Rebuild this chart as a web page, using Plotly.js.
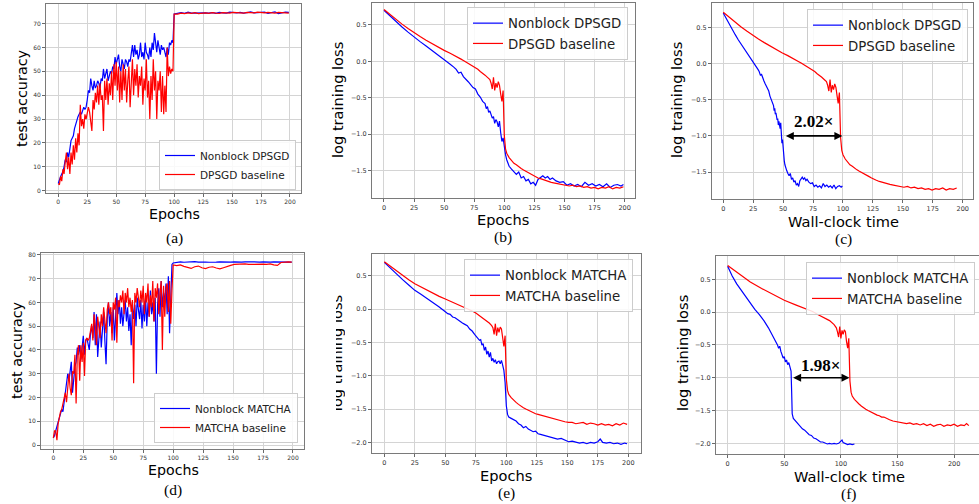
<!DOCTYPE html>
<html>
<head>
<meta charset="utf-8">
<script src="https://cdn.plot.ly/plotly-3.0.1.min.js"></script>
<style>html,body{margin:0;padding:0;background:#fff;}#chart{width:979px;height:504px;}</style>
</head>
<body>
<div id="chart"></div>
<script>
// ---------------- DATA ----------------
// Panels (a) and (d): test accuracy vs epochs
const epochsAcc = [0,1,2,3,4,5,6,7,8,9,10,11,12,13,14,15,16,17,18,19,20,21,22,23,24,25,26,27,28,29,30,31,32,33,34,35,36,37,38,39,40,41,42,43,44,45,46,47,48,49,50,51,52,53,54,55,56,57,58,59,60,61,62,63,64,65,66,67,68,69,70,71,72,73,74,75,76,77,78,79,80,81,82,83,84,85,86,87,88,89,90,91,92,93,94,95,96,97,98,99,100,103,106,109,112,115,118,121,124,127,130,133,136,139,142,145,148,151,154,157,160,163,166,169,172,175,178,181,184,187,190,193,196,199];

const accNonblockDPSGD = [3,5,6,7,8,10,13,12,16,14,19,21,22,23,26,28,29,31,32,33,32,34,35,34,35,38,42,41,47,44,42,46,43,44,46,45,43,47,46,51,47,49,51,46,48,50,49,52,51,56,53,55,57,52,50,55,53,51,55,54,52,55,54,58,61,56,61,57,59,55,57,62,56,58,55,62,58,57,55,60,56,62,59,66,62,58,63,60,57,61,59,60,58,56,60,57,62,61,63,62,74,
74.2,74.6,74.3,74.8,74.4,74.5,74.3,74.7,74.5,74.4,74.6,74.3,74.7,74.5,74.4,74.8,74.6,74.5,74.7,74.4,74.6,74.9,74.5,74.7,74.6,74.8,74.3,74.7,74.9,74.2,74.6,74.8,74.7];

const accDPSGDBaseline = [3,2.5,6,4,9,7,12,16,9,14,7,16,11,19,13,22,16,24,19,36,27,30,26,32,30,33,35,33,28,25,38,34,41,37,44,36,45,38,40,25,46,38,47,36,45,40,50,38,53,44,54,42,52,37,50,38,53,42,51,37,46,52,35,48,55,40,51,44,53,39,48,44,52,36,47,42,55,39,46,30,48,38,55,42,50,30,46,42,50,33,48,32,44,33,60,48,52,49,51,50,74,
74.0,74.4,74.2,74.5,74.3,74.6,74.2,74.4,74.5,74.3,74.6,74.4,74.3,74.6,74.5,74.4,74.7,74.5,74.6,74.4,74.7,74.6,74.5,74.8,74.6,74.5,74.7,74.6,74.4,74.7,74.5,74.6,74.4];

const accNonblockMATCHA = [3,4,6,8,10,11,13,15,14,18,21,24,30,27,31,35,22,29,33,35,41,38,42,36,40,46,38,44,45,42,40,47,50,45,56,42,55,37,47,52,41,50,56,44,34,53,60,50,56,47,58,44,57,64,55,61,51,58,50,55,61,52,58,48,55,42,60,53,59,50,62,57,53,61,49,59,52,62,50,60,54,65,55,60,52,62,30,59,66,54,69,58,64,60,68,55,71,47,66,76,76.6,
77.0,77.1,76.9,77.1,77.0,77.2,77.0,77.1,77.0,76.9,77.1,77.0,77.1,77.0,77.2,77.0,77.1,76.9,77.0,77.1,77.0,77.1,77.0,77.0,77.1,76.9,77.0,77.1,77.0,77.0,77.1,77.0,77.0];

const accMATCHABaseline = [3,6,6,2,9,12,14,15,17,20,22,18,26,30,24,21,31,30,38,17.5,38,42,27,42,35,43,29,44,45,44,45,48,51,44,55,50,42,54,48,45,55,50,58,53,47,57,60,55,58,44,60,57,62,43,61,58,63,60,65,55,64,60,66,58,62,56,61,26,64,60,66,62,58,65,60,67,55,64,60,68,54,63,58,69,52,66,62,68,55,64,69,40,67,54,66,68,56,69,51,65,75.8,
75.5,75.8,75.2,74.8,74.3,75.0,75.3,74.6,74.2,74.8,75.0,74.5,74.1,74.6,75.2,75.6,76.0,76.1,75.9,76.2,76.0,76.1,75.9,76.2,76.1,76.0,76.2,75.8,75.6,76.8,77.0,77.1,77.0];

// Panel (b)/(c): DPSGD log training loss
const epochsLossNbD = [0,5,10,15,20,25,30,35,40,45,50,55,58,60,62,64,66,68,70,72,74,76,78,80,82,84,85,86,87,88,89,90,91,92,93,94,95,96,97,98,99,100,101,102,103,104,106,108,110,112,114,116,118,120,122,124,126,128,130,132,134,136,138,140,143,146,149,152,155,158,161,164,167,170,173,176,179,182,185,188,191,194,197,199];
const timeLossNbD = [0,2.5,5,7.5,10,12.5,15,17.5,20,22.5,25,27.5,29,30,31,32,33,34,35,36,37,38,39,40,41,42,42.5,43,43.5,44,44.5,45,45.5,46,46.5,47,47.5,48,48.5,49,49.5,50,50.5,51,51.5,52,53,54,55,56,57,58,59,60,61,62,63,64,65,66,67,68,69,70,71.5,73,74.5,76,77.5,79,80.5,82,83.5,85,86.5,88,89.5,91,92.5,94,95.5,97,98.5,99.5];
const lossNonblockDPSGD = [0.70,0.62,0.54,0.47,0.40,0.33,0.27,0.21,0.15,0.09,0.03,-0.04,-0.08,-0.11,-0.16,-0.15,-0.21,-0.24,-0.28,-0.32,-0.36,-0.38,-0.45,-0.49,-0.55,-0.58,-0.65,-0.62,-0.70,-0.68,-0.73,-0.78,-0.76,-0.85,-0.80,-0.83,-0.90,-0.82,-0.98,-1.10,-1.05,-1.18,-1.28,-1.35,-1.40,-1.44,-1.48,-1.52,-1.55,-1.52,-1.60,-1.58,-1.64,-1.62,-1.68,-1.66,-1.70,-1.62,-1.60,-1.57,-1.60,-1.58,-1.62,-1.60,-1.64,-1.66,-1.65,-1.70,-1.68,-1.71,-1.69,-1.72,-1.66,-1.70,-1.68,-1.71,-1.69,-1.72,-1.68,-1.73,-1.70,-1.69,-1.71,-1.69];

const epochsLossBaseD = [0,5,10,15,20,25,30,35,40,45,50,55,60,62,64,66,68,70,72,74,76,78,80,82,84,86,88,89,90,91,92,93,94,95,96,97,98,99,100,101,102,104,106,108,110,112,114,116,118,120,122,124,126,128,130,133,136,139,142,145,148,151,154,157,160,163,166,169,172,175,178,181,184,187,190,193,196,199];
const timeLossBaseD = [0,4.9,9.8,14.7,19.6,24.5,29.4,34.3,39.2,44.1,49,53.9,58.8,60.8,62.7,64.7,66.6,68.6,70.6,72.5,74.5,76.4,78.4,80.4,82.3,84.3,86.2,87.2,88.2,89.2,90.2,91.1,92.1,93.1,94.1,95.1,96,97,98,99,100,101.9,103.9,105.8,107.8,109.8,111.7,113.7,115.6,117.6,119.6,121.5,123.5,125.4,127.4,130.3,133.3,136.2,139.2,142.1,145,148,150.9,153.9,156.8,159.7,162.7,165.6,168.6,171.5,174.4,177.4,180.3,183.3,186.2,189.1,192.1,195];
const lossDPSGDBaseline = [0.71,0.64,0.57,0.51,0.45,0.39,0.34,0.29,0.24,0.20,0.15,0.11,0.07,0.05,0.03,0.01,-0.01,-0.03,-0.04,-0.07,-0.09,-0.11,-0.14,-0.16,-0.19,-0.22,-0.25,-0.30,-0.38,-0.22,-0.40,-0.30,-0.36,-0.28,-0.33,-0.45,-0.55,-0.40,-1.02,-1.20,-1.26,-1.32,-1.36,-1.40,-1.42,-1.45,-1.47,-1.49,-1.51,-1.53,-1.55,-1.56,-1.58,-1.60,-1.61,-1.63,-1.64,-1.66,-1.67,-1.68,-1.69,-1.70,-1.71,-1.70,-1.72,-1.71,-1.73,-1.72,-1.74,-1.73,-1.75,-1.73,-1.74,-1.72,-1.75,-1.73,-1.74,-1.72];

// Panel (e): MATCHA log training loss vs epochs
const epochsLossNbM = [0,5,10,15,20,25,30,35,40,45,50,52,54,56,58,60,62,64,66,68,70,72,74,76,78,79,80,81,82,83,84,85,86,87,88,89,90,91,92,93,94,95,96,97,98,99,100,101,102,104,106,108,110,112,114,116,118,120,122,124,126,128,130,133,136,139,142,145,148,151,154,157,160,163,166,169,172,175,177,179,182,185,188,191,194,197,199];
const lossNonblockMATCHA = [0.70,0.61,0.52,0.44,0.36,0.28,0.22,0.16,0.10,0.03,-0.04,-0.07,-0.08,-0.12,-0.13,-0.16,-0.18,-0.21,-0.23,-0.25,-0.30,-0.33,-0.38,-0.42,-0.47,-0.46,-0.54,-0.52,-0.62,-0.57,-0.68,-0.63,-0.72,-0.65,-0.78,-0.74,-0.80,-0.76,-0.82,-0.79,-0.78,-0.82,-0.77,-0.84,-0.92,-1.10,-1.45,-1.58,-1.62,-1.64,-1.66,-1.68,-1.72,-1.74,-1.78,-1.76,-1.80,-1.82,-1.84,-1.83,-1.87,-1.88,-1.89,-1.90,-1.91,-1.93,-1.95,-1.94,-1.97,-1.99,-1.98,-2.00,-2.01,-2.00,-2.02,-2.00,-2.01,-1.99,-1.95,-2.00,-2.01,-2.00,-2.02,-2.01,-2.03,-2.01,-2.02];

const epochsLossBaseM = [0,5,10,15,20,25,30,35,40,45,50,55,60,63,66,69,72,75,78,80,82,84,86,88,89,90,91,92,93,94,95,96,97,98,99,100,101,102,104,106,108,110,112,114,116,118,120,122,124,126,128,130,133,136,139,142,145,148,151,154,157,160,163,166,169,172,175,178,181,184,187,190,193,196,199];
const lossMATCHABaseline = [0.71,0.64,0.57,0.50,0.44,0.38,0.33,0.28,0.23,0.19,0.15,0.11,0.07,0.05,0.02,-0.01,-0.03,-0.06,-0.10,-0.12,-0.15,-0.18,-0.21,-0.25,-0.28,-0.38,-0.22,-0.40,-0.28,-0.35,-0.27,-0.30,-0.45,-0.56,-0.40,-1.05,-1.22,-1.28,-1.33,-1.37,-1.40,-1.43,-1.46,-1.48,-1.50,-1.52,-1.54,-1.55,-1.57,-1.58,-1.59,-1.60,-1.62,-1.64,-1.65,-1.67,-1.68,-1.69,-1.70,-1.70,-1.72,-1.71,-1.70,-1.73,-1.71,-1.72,-1.74,-1.72,-1.74,-1.73,-1.75,-1.72,-1.74,-1.71,-1.73];

// Panel (f): MATCHA log training loss vs wall-clock time
const timeLossNbM = [0,4,8,12,16,20,24,28,32,36,40,42,44,45,46,47,48,49,50,51,52,53,54,55,56,56.5,57,58,59,60,62,64,66,68,70,72,74,76,78,80,82,84,86,88,90,92,94,96,98,100,101,102,104,106,108,110,112];
const lossNonblockMATCHAtime = [0.70,0.55,0.43,0.33,0.22,0.12,0.04,-0.04,-0.13,-0.24,-0.37,-0.42,-0.50,-0.55,-0.52,-0.60,-0.64,-0.70,-0.68,-0.76,-0.73,-0.80,-0.77,-0.82,-0.90,-1.20,-1.55,-1.62,-1.64,-1.66,-1.70,-1.74,-1.78,-1.80,-1.84,-1.87,-1.88,-1.92,-1.93,-1.96,-1.98,-1.98,-2.00,-2.01,-2.00,-2.01,-2.00,-2.01,-2.00,-1.97,-1.95,-1.99,-2.00,-2.02,-2.01,-2.02,-2.01];

const timeLossBaseM = [0,10,20,30,40,50,60,70,75,80,85,90,94,96,97,98,99,100,101,102,103,104,105,106,107,108,109,110,112,114,116,118,120,122,124,126,128,130,132,134,136,138,140,143,146,149,152,155,158,161,164,167,170,173,176,179,182,185,188,191,194,197,200,203,206,209,211,213];
const lossMATCHABaselineTime = [0.71,0.58,0.46,0.36,0.27,0.18,0.11,0.05,0.01,-0.04,-0.08,-0.13,-0.19,-0.24,-0.30,-0.38,-0.22,-0.40,-0.28,-0.34,-0.27,-0.30,-0.45,-0.55,-0.40,-1.05,-1.22,-1.28,-1.33,-1.37,-1.40,-1.43,-1.46,-1.48,-1.50,-1.52,-1.54,-1.55,-1.57,-1.58,-1.60,-1.60,-1.62,-1.64,-1.66,-1.67,-1.68,-1.69,-1.70,-1.69,-1.71,-1.70,-1.72,-1.70,-1.73,-1.71,-1.74,-1.72,-1.71,-1.74,-1.72,-1.73,-1.71,-1.74,-1.72,-1.73,-1.70,-1.73];

// Tick labels
const epochTicks = [0,25,50,75,100,125,150,175,200];
const timeTicksF = [0,50,100,150,200];
const accTicksA = [0,10,20,30,40,50,60,70];
const accTicksD = [0,10,20,30,40,50,60,70,80];
const lossTicksBC = [0.5,0.0,-0.5,-1.0,-1.5];
const lossTextBC = ['0.5','0.0','\u22120.5','\u22121.0','\u22121.5'];
const lossTicksEF = [0.5,0.0,-0.5,-1.0,-1.5,-2.0];
const lossTextEF = ['0.5','0.0','\u22120.5','\u22121.0','\u22121.5','\u22122.0'];

// Text
const captions = ['(a)','(b)','(c)','(d)','(e)','(f)'];
const speedupC = {label:'2.02\u00d7', from:51, to:99.5, level:-1.0, textX:75, textY:-0.8};
const speedupF = {label:'1.98\u00d7', from:56.5, to:107.6, level:-1.0, textX:82, textY:-0.82};

// ---------------- LAYOUT ----------------
const W = 979, H = 504;
const px = v => v / W;
const py = v => 1 - v / H;
const BLUE = '#0000ff', RED = '#ff0000';
const LW = 1.2;
const FONT = 'DejaVu Sans, Liberation Sans, sans-serif';

function line(x, y, color, name, xa, ya, lg) {
  return {x: x, y: y, type: 'scatter', mode: 'lines', name: name,
    line: {color: color, width: LW}, xaxis: xa, yaxis: ya, legend: lg, showlegend: true};
}

const traces = [
  line(epochsAcc, accNonblockDPSGD, BLUE, 'Nonblock DPSGD', 'x', 'y', 'legend'),
  line(epochsAcc, accDPSGDBaseline, RED, 'DPSGD baseline', 'x', 'y', 'legend'),
  line(epochsLossNbD, lossNonblockDPSGD, BLUE, 'Nonblock DPSGD', 'x2', 'y2', 'legend2'),
  line(epochsLossBaseD, lossDPSGDBaseline, RED, 'DPSGD baseline', 'x2', 'y2', 'legend2'),
  line(timeLossNbD, lossNonblockDPSGD, BLUE, 'Nonblock DPSGD', 'x3', 'y3', 'legend3'),
  line(timeLossBaseD, lossDPSGDBaseline, RED, 'DPSGD baseline', 'x3', 'y3', 'legend3'),
  line(epochsAcc, accNonblockMATCHA, BLUE, 'Nonblock MATCHA', 'x4', 'y4', 'legend4'),
  line(epochsAcc, accMATCHABaseline, RED, 'MATCHA baseline', 'x4', 'y4', 'legend4'),
  line(epochsLossNbM, lossNonblockMATCHA, BLUE, 'Nonblock MATCHA', 'x5', 'y5', 'legend5'),
  line(epochsLossBaseM, lossMATCHABaseline, RED, 'MATCHA baseline', 'x5', 'y5', 'legend5'),
  line(timeLossNbM, lossNonblockMATCHAtime, BLUE, 'Nonblock MATCHA', 'x6', 'y6', 'legend6'),
  line(timeLossBaseM, lossMATCHABaselineTime, RED, 'MATCHA baseline', 'x6', 'y6', 'legend6')
];

const panels = [
  {x:[46,301], y:[4,193], xr:[-10.6,209.5], yr:[-0.96,78.2], xt:epochTicks, yt:accTicksA, ytt:accTicksA.map(String), tf:6},
  {x:[372,635], y:[3,198], xr:[-9.95,208.6], yr:[-1.875,0.80], xt:epochTicks, yt:lossTicksBC, ytt:lossTextBC, tf:6.5},
  {x:[712,973], y:[3,199], xr:[-9.4,208.6], yr:[-1.873,0.838], xt:epochTicks, yt:lossTicksBC, ytt:lossTextBC, tf:6.5},
  {x:[41,304], y:[253,449], xr:[-10.3,209.2], yr:[-1.68,80.8], xt:epochTicks, yt:accTicksD, ytt:accTicksD.map(String), tf:6},
  {x:[372,641], y:[254,453], xr:[-10.1,210.4], yr:[-2.159,0.825], xt:epochTicks, yt:lossTicksEF, ytt:lossTextEF, tf:6.5},
  {x:[716,979], y:[256,454], xr:[-10.3,222], yr:[-2.163,0.855], xt:timeTicksF, yt:lossTicksEF, ytt:lossTextEF, tf:6.5, openRight:true}
];

const layout = {
  width: W, height: H,
  margin: {l:0, r:0, t:0, b:0},
  paper_bgcolor: '#ffffff', plot_bgcolor: '#ffffff',
  font: {family: FONT, color: '#000'},
  annotations: [], shapes: []
};

panels.forEach((p, i) => {
  const n = i === 0 ? '' : String(i + 1);
  const common = {
    showline: true, mirror: true, linecolor: '#7a7a7a', linewidth: 1,
    showgrid: true, gridcolor: '#d4d4d4', gridwidth: 1, zeroline: false,
    ticks: 'outside', ticklen: 3, tickwidth: 0.8, tickcolor: '#444',
    tickfont: {family: FONT, size: p.tf, color: '#333'},
    fixedrange: true, tickmode: 'array'
  };
  layout['xaxis' + n] = Object.assign({}, common, {
    domain: [px(p.x[0]), px(p.x[1])], range: p.xr, anchor: 'y' + n,
    tickvals: p.xt, ticktext: p.xt.map(String)
  });
  layout['yaxis' + n] = Object.assign({}, common, {
    domain: [py(p.y[1]), py(p.y[0])], range: p.yr, anchor: 'x' + n,
    tickvals: p.yt, ticktext: p.ytt, mirror: p.openRight ? false : true
  });
});

function leg(right, edge, anchor, size) {
  return {x: px(right), y: py(edge), xanchor: 'right', yanchor: anchor,
    bgcolor: 'rgba(255,255,255,0.85)', bordercolor: '#cccccc', borderwidth: 1,
    font: {family: FONT, size: size, color: '#222'}, itemwidth: 30, tracegroupgap: 0};
}
layout.legend = leg(296, 190, 'bottom', 10.5);
layout.legend2 = leg(628, 7, 'top', 13.3);
layout.legend3 = leg(968, 9, 'top', 13.3);
layout.legend4 = leg(298, 443, 'bottom', 10.5);
layout.legend5 = leg(633, 259, 'top', 13.3);
layout.legend6 = leg(975, 262, 'top', 13.3);

function txt(text, x, y, size, opts) {
  return Object.assign({text: text, x: px(x), y: py(y), xref: 'paper', yref: 'paper',
    xanchor: 'center', yanchor: 'middle', showarrow: false,
    font: {family: FONT, size: size, color: '#000'}}, opts || {});
}
const A = layout.annotations;
// y titles
A.push(txt('test accuracy', 22, 98, 14.4, {textangle: -90}));
A.push(txt('log training loss', 338, 100, 14.6, {textangle: -90}));
A.push(txt('log training loss', 677, 100, 14.6, {textangle: -90}));
A.push(txt('test accuracy', 17, 350, 14.4, {textangle: -90}));
// (e): label partly hidden behind the neighbouring panel in the reference
A.push(txt('log training loss', 340, 353, 14.6, {textangle: -90, width: 150, height: 9, valign: 'bottom', borderpad: 0}));
A.push(txt('log training loss', 682, 353, 14.6, {textangle: -90}));
// x titles
A.push(txt('Epochs', 174, 214, 14.2));
A.push(txt('Epochs', 503, 219, 14.6));
A.push(txt('Wall-clock time', 843, 221, 14.6));
A.push(txt('Epochs', 173, 470, 14.2));
A.push(txt('Epochs', 506, 475, 14.6));
A.push(txt('Wall-clock time', 849, 476, 14.6));
// captions
const capPos = [[174,238],[503,237],[843,239],[173,490],[506,493],[849,494]];
captions.forEach((c, i) => A.push(txt(c, capPos[i][0], capPos[i][1], 15.5, {font: {family: 'Liberation Serif, Times New Roman, serif', size: 15.5, color: '#000'}})));

// speedup arrows
[[speedupC, 'x3', 'y3'], [speedupF, 'x6', 'y6']].forEach(([s, xa, ya]) => {
  A.push({x: s.to, y: s.level, ax: s.from, ay: s.level, xref: xa, yref: ya, axref: xa, ayref: ya,
    text: '', showarrow: true, arrowhead: 2, arrowside: 'end+start', arrowsize: 1, arrowwidth: 1.6,
    arrowcolor: '#000', standoff: 0, startstandoff: 0});
  A.push({x: s.textX, y: s.textY, xref: xa, yref: ya, text: '<b>' + s.label + '</b>', showarrow: false,
    xanchor: 'center', yanchor: 'middle',
    font: {family: 'Liberation Serif, Times New Roman, serif', size: 17, color: '#000'}});
});

Plotly.newPlot('chart', traces, layout, {displayModeBar: false, staticPlot: true});
</script>
</body>
</html>
